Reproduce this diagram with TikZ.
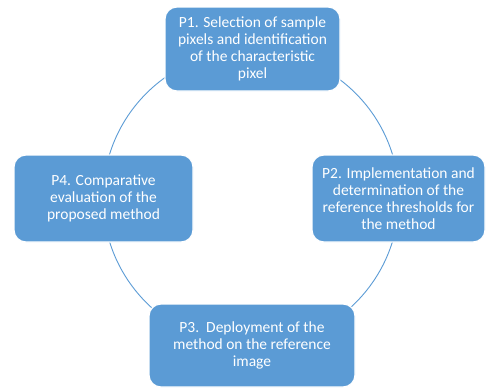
\documentclass[tikz,border=0pt]{standalone}
\usepackage{fontspec}
\setmainfont{Carlito}
\definecolor{boxblue}{HTML}{5B9BD5}
\begin{document}
\begin{tikzpicture}[x=1pt,y=-1pt,
  box/.style={draw=white, line width=1.2pt, fill=boxblue, rounded corners=12pt,
    text=white, align=center, font=\fontsize{15.5}{16.8}\selectfont, inner sep=0pt},
  ring/.style={draw=boxblue, line width=0.9pt}]
\useasboundingbox (0,0) rectangle (486,388);
\coordinate (c) at (251,198);
\draw[ring] (c) circle[radius=148];
\node[box, minimum width=175, minimum height=84] (p1) at (252.5,49)
  {P1. Selection of sample\\pixels and identification\\of the characteristic\\pixel};
\node[box, minimum width=173, minimum height=87] (p2) at (398.5,198.5)
  {P2. Implementation and\\determination of the\\reference thresholds for\\the method};
\node[box, minimum width=206, minimum height=83] (p3) at (252,345.5)
  {P3.\ \ Deployment of the\\method on the reference\\image};
\node[box, minimum width=179, minimum height=87] (p4) at (103.5,198.5)
  {P4. Comparative\\evaluation of the\\proposed method};
\end{tikzpicture}
\end{document}
